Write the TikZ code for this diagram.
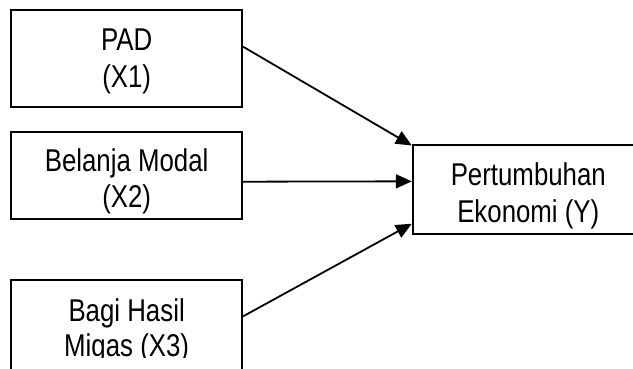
\documentclass[tikz,border=0pt]{standalone}
\usepackage{fontspec}
\setmainfont{Liberation Sans}
\newfontfamily\narrowfont[FakeStretch=0.82]{Liberation Sans}
\usetikzlibrary{arrows.meta,calc}
\begin{document}
\begin{tikzpicture}[x=1pt,y=-1pt,
  boxnode/.style={draw=black,line width=2pt,minimum width=231pt,inner sep=0pt},
  lbl/.style={font=\narrowfont\fontsize{31.5}{37}\selectfont,anchor=base,inner sep=0pt},
  arr/.style={line width=1.8pt,-{Triangle[length=16pt,width=14pt]}}]
\path[use as bounding box,clip] (0,0) rectangle (633,368);
\fill[white] (0,0) rectangle (633,368);
% boxes
\node[boxnode,minimum height=97pt] (b1) at (126.65,58.8) {};
\node[boxnode,minimum height=87pt] (b2) at (126.65,175.2) {};
\node[boxnode,minimum height=120pt] (b3) at (126.65,340.3) {};
\node[boxnode,minimum height=89pt] (by) at (528.3,189.5) {};
% labels
\node[lbl] (t1a) at (126.65,50) {PAD};
\node[lbl] (t1b) at (126.65,87) {(X1)};
\node[lbl] (t2a) at (126.65,171) {Belanja Modal};
\node[lbl] (t2b) at (126.65,207) {(X2)};
\node[lbl] (t3a) at (126.65,321) {Bagi Hasil};
\begin{scope}
\clip (0,280) rectangle (633,357.5);
\node[lbl] (t3b) at (126.65,356) {Migas (X3)};
\end{scope}
\node[lbl] (tya) at (528.3,185) {Pertumbuhan};
\node[lbl] (tyb) at (528.3,222) {Ekonomi (Y)};
% connectors
\draw[arr] ($(b1.north east)!0.378!(b1.south east)$) -- ([yshift=-1.5pt]by.north west);
\draw[arr] ($(b2.north east)!0.573!(b2.south east)$) -- ($(by.north west)!0.41!(by.south west)$);
\draw[arr] ([yshift=-37pt]b3.north east) -- ($(by.north west)!0.876!(by.south west)$);
\end{tikzpicture}
\end{document}
